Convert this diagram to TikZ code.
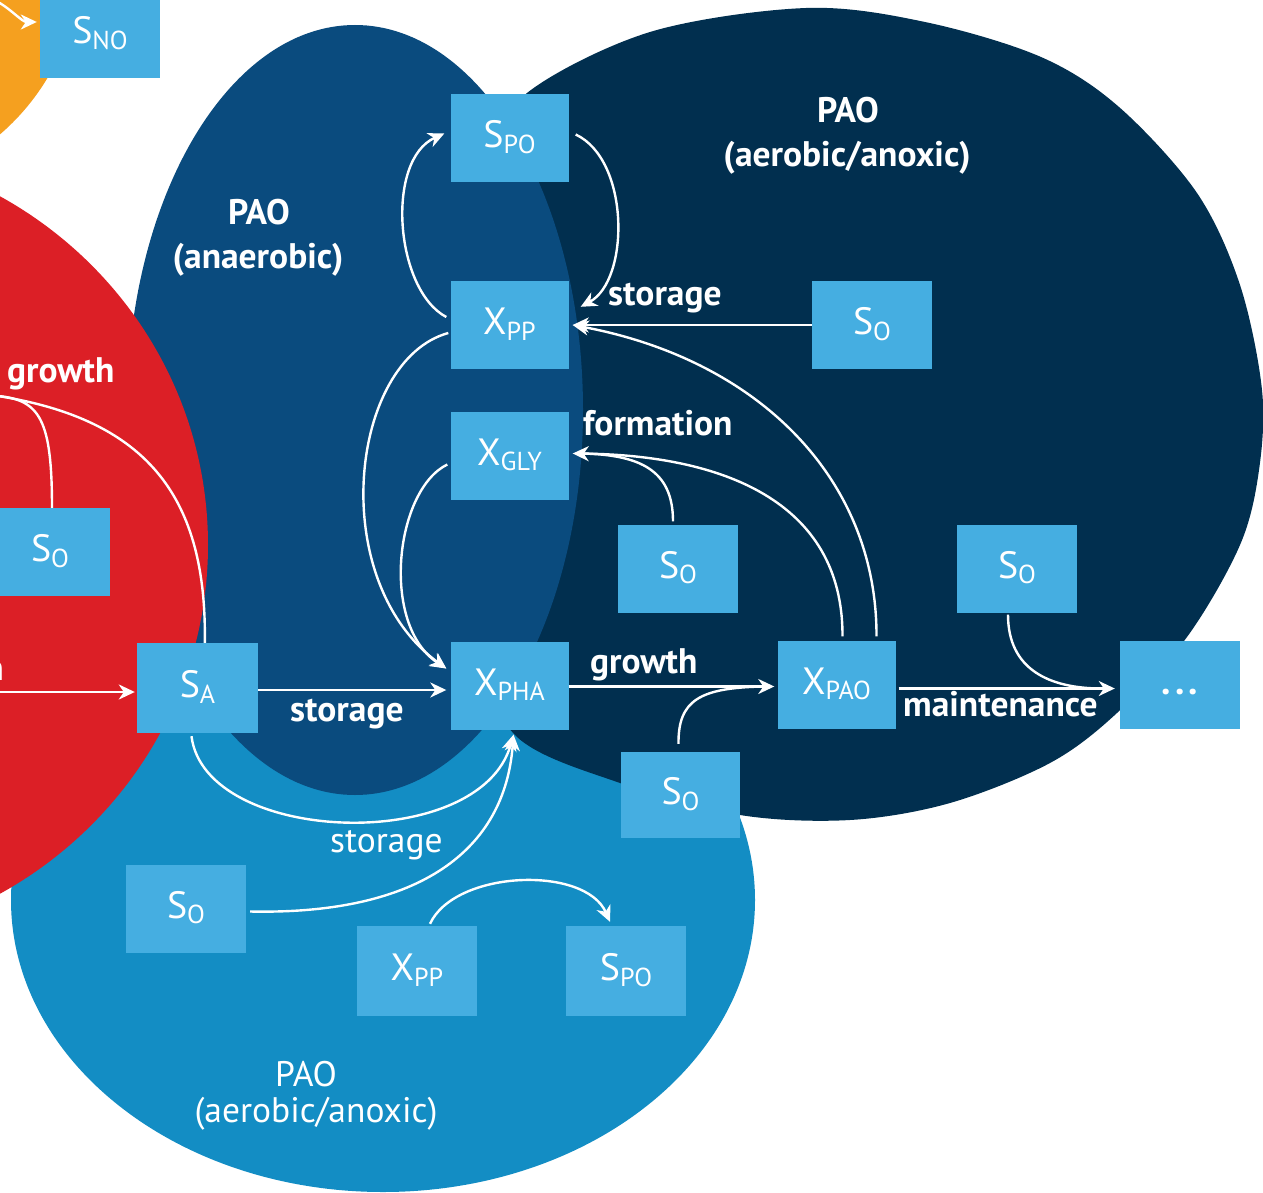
\documentclass[tikz,border=0pt]{standalone}
\usepackage{fontspec}
\setmainfont{PT Sans}
\usetikzlibrary{arrows.meta,calc}

\definecolor{hetOrange}{HTML}{F5A01F}
\definecolor{hetRed}{HTML}{DC1F26}
\definecolor{paoAna}{HTML}{0A4B7E}
\definecolor{paoAer}{HTML}{012F4F}
\definecolor{paoLow}{HTML}{138DC4}
\definecolor{boxblue}{HTML}{45AEE1}

% component symbol with a lowered, smaller index
\newcommand\chem[2]{#1\raisebox{-0.15em}{\fontsize{26}{26}\selectfont #2}}

\tikzset{
  box/.style={fill=boxblue, draw=none, text=white, inner sep=0pt,
              minimum width=118pt, minimum height=88pt,
              text height=26pt, text depth=7pt,
              font=\fontsize{38}{40}\selectfont},
  flow/.style={draw=white, line width=2.4pt,
               -{Stealth[length=16pt,width=15pt,inset=5pt]}},
  tieline/.style={draw=white, line width=2.4pt},
  lbl/.style={text=white, inner sep=0pt, font=\fontsize{35.5}{38}\selectfont\bfseries},
  lblthin/.style={text=white, inner sep=0pt, font=\fontsize{35.5}{38}\selectfont},
}

\begin{document}
\begin{tikzpicture}[x=1pt,y=-1pt]
\useasboundingbox (0,0) rectangle (1263,1193);
\clip (0,0) rectangle (1263,1193);

% process regions
\fill[hetOrange] (-150,-40) circle [radius=230];
\fill[paoLow] (383,900) ellipse [x radius=372, y radius=292];
\fill[paoAer] plot[smooth cycle, tension=0.55] coordinates {
  (527,93) (650,32) (806,8) (925,22) (1041,57) (1119,107) (1197,193)
  (1240,285) (1262,390) (1259,470) (1240,545) (1187,637)
  (1117,713) (1050,763) (950,803) (850,820) (740,815) (620,783)
  (515,735) (480,640) (462,450) (470,280) (490,160)};
\fill[paoAna] (355,410) ellipse [x radius=228, y radius=385];
\fill[hetRed] (-200,545) ellipse [x radius=408, y radius=400];

% components
\node[box, minimum width=120pt, minimum height=88pt] (sno) at (100,34) {\chem{S}{NO}};
\node[box] (spoA) at (509.5,138.5) {\chem{S}{PO}};
\node[box] (xppA) at (509.5,325) {\chem{X}{PP}};
\node[box] (xgly) at (509.5,455.5) {\chem{X}{GLY}};
\node[box] (xpha) at (509.5,685.5) {\chem{X}{PHA}};
\node[box, minimum width=121pt, minimum height=90pt] (sa) at (197.5,688) {\chem{S}{A}};
\node[box, minimum width=120pt] (soRed) at (50,552) {\chem{S}{O}};
\node[box, minimum width=120pt] (soTop) at (872,325) {\chem{S}{O}};
\node[box, minimum width=120pt] (soMid) at (678,568.5) {\chem{S}{O}};
\node[box, minimum width=120pt] (soRight) at (1017,568.5) {\chem{S}{O}};
\node[box] (xpao) at (836.5,684.5) {\chem{X}{PAO}};
\node[box, minimum width=120pt] (more) at (1180,684.5) {\bfseries .\kern4pt.\kern4pt.};
\node[box, minimum width=119pt, minimum height=86pt] (soLow) at (680.5,795) {\chem{S}{O}};
\node[box, minimum width=120pt] (soLeft) at (186,908.5) {\chem{S}{O}};
\node[box, minimum width=120pt, minimum height=90pt] (xppB) at (417,971) {\chem{X}{PP}};
\node[box, minimum width=120pt, minimum height=90pt] (spoB) at (626,971) {\chem{S}{PO}};

% free ends at the picture border
\coordinate (inNO) at (-2,2);
\coordinate (outGrowth) at (-2,396);
\coordinate (inA) at (-2,692);

% heterotroph side
\draw[flow] (inNO) .. controls (12,10) and (22,22) .. ($(sno.west)+(-3,-12)$);
\draw[tieline] ($(sa.north west)+(68,0)$) .. controls (207,500) and (150,420) .. (outGrowth);
\draw[tieline] ($(soRed.north)+(2,0)$) .. controls (52,420) and (40,400) .. (outGrowth);
\draw[flow] (inA) -- ($(sa.west)+(-2,4)$);

% anaerobic PAO
\draw[flow] ($(sa.east)+(0,2)$) -- ($(xpha.west)+(-4,4.5)$);
\draw[flow] ($(xppA.west)+(-2,8)$) .. controls (350,360) and (325,580) .. ($(xpha.west)+(-4,-17)$);
\draw[flow] ($(xgly.west)+(-3,9)$) .. controls (395,490) and (380,625) .. ($(xpha.west)+(-4,-17)$);
\draw[flow] ($(xppA.west)+(-4,-8)$) .. controls (395,290) and (385,160) .. ($(spoA.west)+(-6,-5)$);

% aerobic/anoxic PAO
\draw[flow] ($(spoA.east)+(7,-4)$) .. controls (630,160) and (630,280) .. ($(xppA.north east)+(12,26)$);
\draw[flow] (soTop.west) -- ($(xppA.east)+(4,0)$);
\draw[flow] ($(xpao.north)+(40,-4)$) .. controls (877,480) and (760,360) .. ($(xppA.east)+(4,0)$);
\draw[flow] ($(xpao.north)+(6,-4)$) .. controls (843,500) and (720,455) .. ($(xgly.east)+(4,-2)$);
\draw[tieline] ($(soMid.north)+(-5,-3)$) .. controls (673,470) and (640,455) .. ($(xgly.east)+(14,-2)$);
\draw[flow] ($(xpha.east)+(0,1)$) -- ($(xpao.west)+(-3,2)$);
\draw[tieline] ($(soLow.north)+(-2,-8)$) .. controls (678,700) and (700,688) .. ($(xpao.west)+(-15,2)$);
\draw[flow] ($(xpao.east)+(3,4)$) -- ($(more.west)+(-5,4)$);
\draw[tieline] ($(soRight.south)+(-9,2)$) .. controls (1008,670) and (1050,688) .. ($(more.west)+(-20,4)$);

% lower aerobic/anoxic PAO
\draw[flow] ($(sa.south)+(-6,3)$) .. controls (205,845) and (480,855) .. ($(xpha.south)+(4,5)$);
\draw[flow] ($(soLeft.east)+(4,3)$) .. controls (420,915) and (505,850) .. ($(xpha.south)+(4,5)$);
\draw[flow] ($(xppB.north)+(13,-2)$) .. controls (455,870) and (585,865) .. ($(spoB.north)+(-16,-4)$);

% process labels
\node[lbl, anchor=base west] (tGrowthH) at (7,382) {growth};
\node[lbl, anchor=base east] (tCut) at (4,680) {n};
\node[lbl, anchor=base west] (tStoreA) at (290,721) {storage};
\node[lbl, anchor=base west] (tStorePP) at (608,305) {storage};
\node[lbl, anchor=base west] (tForm) at (583,435) {formation};
\node[lbl, anchor=base west] (tGrowthP) at (590,673) {growth};
\node[lbl, anchor=base west] (tMaint) at (903,716) {maintenance};
\node[lblthin, anchor=base west] (tStoreLow) at (330,852) {storage};

% region titles
\node[lbl, anchor=base] (hAna) at (259,225) {PAO};
\node[lbl, anchor=base] (hAnaSub) at (258,268) {(anaerobic)};
\node[lbl, anchor=base] (hAer) at (848,123) {PAO};
\node[lbl, anchor=base] (hAerSub) at (847,167) {(aerobic/anoxic)};
\node[lblthin, anchor=base] (hLow) at (306,1086) {PAO};
\node[lblthin, anchor=base] (hLowSub) at (316,1122) {(aerobic/anoxic)};
\end{tikzpicture}
\end{document}
